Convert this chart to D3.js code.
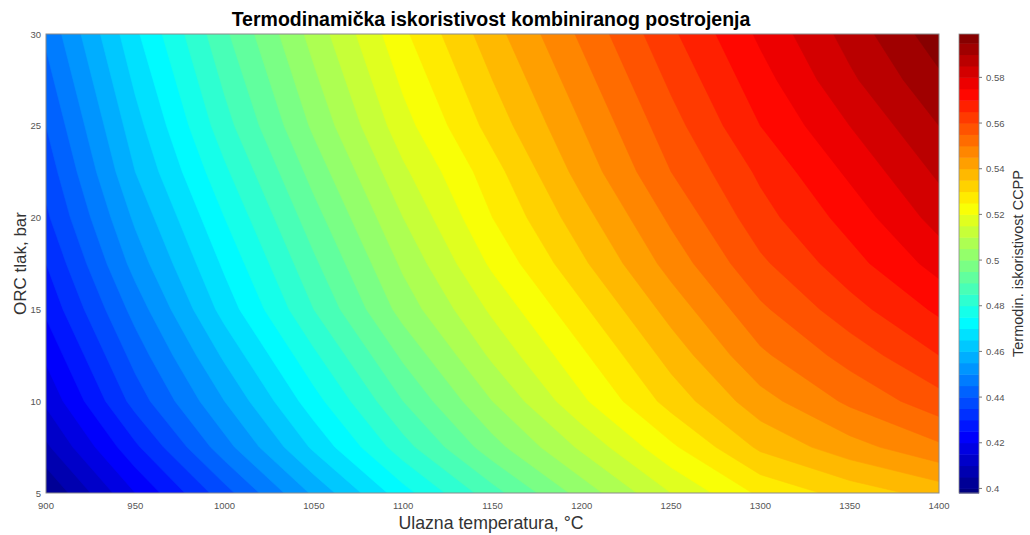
<!DOCTYPE html>
<html><head><meta charset="utf-8">
<script src="https://cdn.jsdelivr.net/npm/d3@7"></script>
<style>
html,body{margin:0;padding:0;background:#fff;}
text{font-family:"Liberation Sans",Arial,sans-serif;}
</style></head>
<body>
<svg id="chart" width="1030" height="535"></svg>
<script>
// ---- data ----
const temperatures = [900, 950, 1000, 1050, 1100, 1150, 1200, 1250, 1300, 1350, 1400];
const pressures = [5, 7.5, 10, 12.5, 15, 17.5, 20, 22.5, 25, 27.5, 30];
// efficiency rows, one per pressure (P = 5 ... 30), columns follow temperatures
const efficiency = [
  [0.400, 0.420, 0.438, 0.456, 0.473, 0.488, 0.502, 0.515, 0.526, 0.532, 0.537],
  [0.409, 0.429, 0.448, 0.466, 0.483, 0.498, 0.511, 0.524, 0.536, 0.543, 0.549],
  [0.416, 0.437, 0.455, 0.473, 0.490, 0.505, 0.519, 0.532, 0.543, 0.551, 0.558],
  [0.421, 0.442, 0.461, 0.479, 0.496, 0.511, 0.524, 0.537, 0.549, 0.557, 0.565],
  [0.426, 0.447, 0.467, 0.485, 0.502, 0.516, 0.529, 0.542, 0.554, 0.563, 0.571],
  [0.430, 0.452, 0.471, 0.489, 0.506, 0.521, 0.534, 0.547, 0.559, 0.568, 0.577],
  [0.434, 0.456, 0.475, 0.493, 0.510, 0.525, 0.538, 0.551, 0.563, 0.572, 0.582],
  [0.437, 0.460, 0.479, 0.497, 0.514, 0.528, 0.542, 0.555, 0.566, 0.576, 0.586],
  [0.440, 0.463, 0.483, 0.501, 0.518, 0.532, 0.545, 0.558, 0.570, 0.580, 0.590],
  [0.443, 0.466, 0.486, 0.504, 0.521, 0.535, 0.548, 0.561, 0.573, 0.584, 0.594],
  [0.446, 0.469, 0.489, 0.507, 0.524, 0.538, 0.551, 0.564, 0.576, 0.587, 0.598]
];
const xTicks = [900, 950, 1000, 1050, 1100, 1150, 1200, 1250, 1300, 1350, 1400];
const yTicks = [5, 10, 15, 20, 25, 30];
const cbTicks = [0.40, 0.42, 0.44, 0.46, 0.48, 0.50, 0.52, 0.54, 0.56, 0.58];
const colorDomain = [0.398, 0.599];
const levelStep = 0.005;

// ---- layout ----
const L = 46, R = 939, T = 34, B = 493;
const cbL = 959, cbW = 20;
const svg = d3.select("#chart");

const x = d3.scaleLinear().domain([900, 1400]).range([L, R]);
const y = d3.scaleLinear().domain([5, 30]).range([B, T]);

function jet(t) {
  t = Math.max(0, Math.min(1, t));
  const c = v => Math.round(255 * Math.max(0, Math.min(1, v)));
  return `rgb(${c(1.5 - Math.abs(4*t - 3))},${c(1.5 - Math.abs(4*t - 2))},${c(1.5 - Math.abs(4*t - 1))})`;
}
const cnorm = d3.scaleLinear().domain(colorDomain).range([0, 1]);

// contour levels
const levels = d3.range(0.395, 0.5999, levelStep).map(v => +v.toFixed(3));
const bandColor = lv => jet(cnorm(lv + levelStep / 2));

const nx = temperatures.length, ny = pressures.length;
const flat = [];
for (let j = 0; j < ny; j++) for (let i = 0; i < nx; i++) flat.push(efficiency[j][i]);

const dT = temperatures[1] - temperatures[0];
const dP = pressures[1] - pressures[0];
const proj = d3.geoTransform({
  point(gx, gy) {
    this.stream.point(x(temperatures[0] + (gx - 0.5) * dT), y(pressures[0] + (gy - 0.5) * dP));
  }
});
const path = d3.geoPath(proj);

svg.append("clipPath").attr("id", "plotclip")
  .append("rect").attr("x", L).attr("y", T).attr("width", R - L).attr("height", B - T);

const contours = d3.contours().size([nx, ny]).thresholds(levels)(flat);
svg.append("g").attr("clip-path", "url(#plotclip)")
  .selectAll("path").data(contours).join("path")
  .attr("d", path)
  .attr("fill", d => bandColor(d.value))
  .attr("stroke", d => bandColor(d.value))
  .attr("stroke-width", 0.6);

// frame
svg.append("rect").attr("x", L).attr("y", T).attr("width", R - L).attr("height", B - T)
  .attr("fill", "none").attr("stroke", "#8a8a8a").attr("stroke-width", 1);

// x tick labels
svg.append("g").selectAll("text").data(xTicks).join("text")
  .attr("x", d => x(d)).attr("y", 509)
  .attr("text-anchor", "middle").attr("font-size", 9.5).attr("fill", "#555")
  .text(d => d);
// y tick labels
svg.append("g").selectAll("text").data(yTicks).join("text")
  .attr("x", 41).attr("y", d => y(d) + 3.5)
  .attr("text-anchor", "end").attr("font-size", 9.5).attr("fill", "#555")
  .text(d => d);

// colorbar
const cy = d3.scaleLinear().domain(colorDomain).range([B, T]);
const cbBands = levels.map(lv => [Math.max(lv, colorDomain[0]), Math.min(lv + levelStep, colorDomain[1]), lv])
  .filter(b => b[1] > b[0]);
svg.append("g").selectAll("rect").data(cbBands).join("rect")
  .attr("x", cbL).attr("width", cbW)
  .attr("y", d => cy(d[1])).attr("height", d => cy(d[0]) - cy(d[1]) + 0.5)
  .attr("fill", d => bandColor(d[2]));
svg.append("rect").attr("x", cbL).attr("y", T).attr("width", cbW).attr("height", B - T)
  .attr("fill", "none").attr("stroke", "#8a8a8a").attr("stroke-width", 0.8);
const cbAxis = svg.append("g");
cbAxis.selectAll("line").data(cbTicks).join("line")
  .attr("x1", cbL + cbW).attr("x2", cbL + cbW + 3)
  .attr("y1", d => cy(d)).attr("y2", d => cy(d))
  .attr("stroke", "#777").attr("stroke-width", 1);
cbAxis.selectAll("text").data(cbTicks).join("text")
  .attr("x", cbL + cbW + 7).attr("y", d => cy(d) + 3.5)
  .attr("font-size", 9.5).attr("fill", "#555")
  .text(d => d3.format("")(+d.toFixed(2)));

// titles
svg.append("text").attr("x", 491).attr("y", 26).attr("text-anchor", "middle")
  .attr("font-size", 19.5).attr("font-weight", "bold").attr("fill", "#000")
  .text("Termodinamička iskoristivost kombiniranog postrojenja");
svg.append("text").attr("x", 491).attr("y", 529).attr("text-anchor", "middle")
  .attr("font-size", 17.7).attr("fill", "#333")
  .text("Ulazna temperatura, °C");
svg.append("text").attr("transform", `translate(26,${(T + B) / 2}) rotate(-90)`)
  .attr("text-anchor", "middle").attr("font-size", 17).attr("fill", "#333")
  .text("ORC tlak, bar");
svg.append("text").attr("transform", `translate(1023,${(T + B) / 2}) rotate(-90)`)
  .attr("text-anchor", "middle").attr("font-size", 14.5).attr("fill", "#333")
  .text("Termodin. iskoristivost CCPP");
</script>
</body></html>
